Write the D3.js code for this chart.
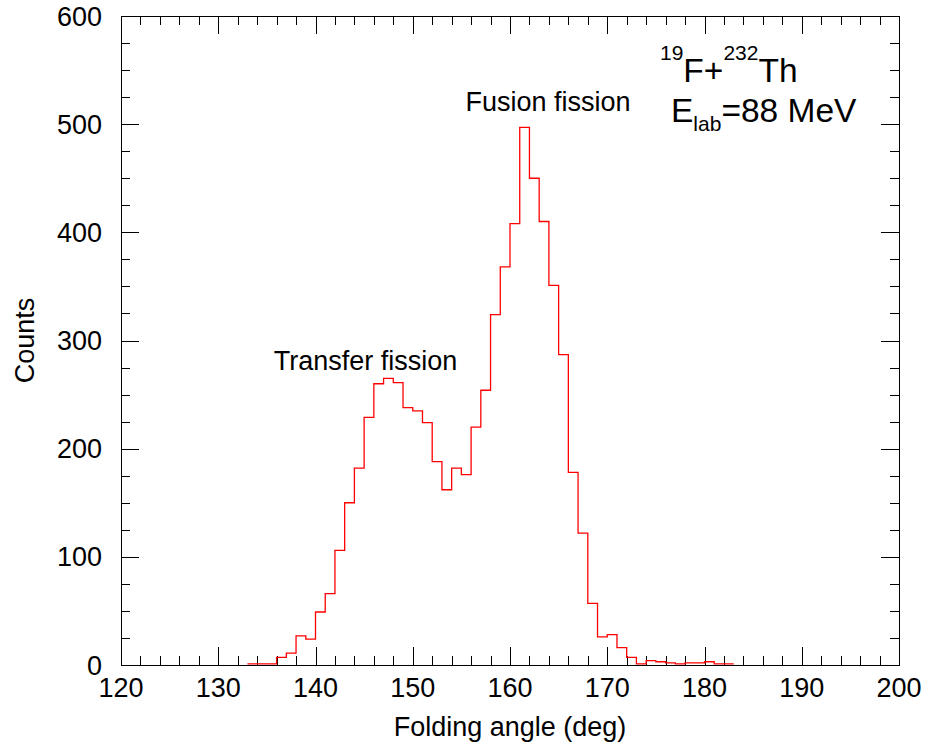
<!DOCTYPE html>
<html>
<head>
<meta charset="utf-8">
<script src="https://cdn.jsdelivr.net/npm/d3@7"></script>
<style>
    body { margin: 0; background: #ffffff; }
    svg { display: block; font-family: "Liberation Sans", Arial, sans-serif; }
</style>
</head>
<body>
<div id="chart"></div>
<script>
// Histogram bins, 1 degree wide, left edges
var bin_start = [133, 134, 135, 136, 137, 138, 139, 140, 141, 142,
    143, 144, 145, 146, 147, 148, 149, 150, 151, 152,
    153, 154, 155, 156, 157, 158, 159, 160, 161, 162,
    163, 164, 165, 166, 167, 168, 169, 170, 171, 172,
    173, 174, 175, 176, 177, 178, 179, 180, 181, 182];
var counts = [1, 1, 1, 7, 11, 27, 24, 49, 66, 106,
    150, 182, 229, 260, 265, 261, 238, 235, 224, 188,
    162, 182, 176, 220, 254, 324, 368, 408, 497, 450,
    410, 351, 287, 178, 122, 57, 26, 28, 16, 7,
    1, 4, 3, 2, 1, 2, 2, 3, 1, 1];
var bin_width = 1;

var x_ticks = [120, 130, 140, 150, 160, 170, 180, 190, 200];
var y_ticks = [0, 100, 200, 300, 400, 500, 600];

var width = 927,
    height = 745,
    margin = {top: 16, right: 28, bottom: 80, left: 121};

var svg = d3.select('#chart').append('svg')
    .attr('width', width)
    .attr('height', height);

var x = d3.scaleLinear().domain([120, 200]).range([margin.left, width - margin.right]);
var y = d3.scaleLinear().domain([0, 600]).range([height - margin.bottom, margin.top]);

var x0 = x.range()[0], x1 = x.range()[1],
    y0 = y.range()[0], y1 = y.range()[1];

// Ticks point inward on all four sides
var major = 18, minor = 9;

function tickLine(x_a, y_a, x_b, y_b) {
    svg.append('line')
        .attr('x1', x_a).attr('y1', y_a)
        .attr('x2', x_b).attr('y2', y_b)
        .attr('stroke', '#000000')
        .attr('stroke-width', 1)
        .attr('shape-rendering', 'crispEdges');
}

d3.range(120, 201, 2).forEach(function(v) {
    var len = v % 10 === 0 ? major : minor,
        px = Math.round(x(v)) + 0.5;
    tickLine(px, y0, px, y0 - len);
    tickLine(px, y1, px, y1 + len);
});

d3.range(0, 601, 25).forEach(function(v) {
    var len = v % 100 === 0 ? major : minor,
        py = Math.round(y(v)) + 0.5;
    tickLine(x0, py, x0 + len, py);
    tickLine(x1, py, x1 - len, py);
});

// Frame
svg.append('rect')
    .attr('x', Math.round(x0) + 0.5).attr('y', Math.round(y1) + 0.5)
    .attr('width', Math.round(x1 - x0)).attr('height', Math.round(y0 - y1))
    .attr('fill', 'none')
    .attr('stroke', '#000000')
    .attr('stroke-width', 1)
    .attr('shape-rendering', 'crispEdges');

// Tick labels
svg.selectAll('.xlabel').data(x_ticks).enter().append('text')
    .attr('class', 'xlabel')
    .attr('x', function(d) { return x(d); })
    .attr('y', y0 + 32)
    .attr('text-anchor', 'middle')
    .style('font-size', '27px')
    .text(function(d) { return d; });

svg.selectAll('.ylabel').data(y_ticks).enter().append('text')
    .attr('class', 'ylabel')
    .attr('x', x0 - 19)
    .attr('y', function(d) { return y(d) + 9.5; })
    .attr('text-anchor', 'end')
    .style('font-size', '27px')
    .text(function(d) { return d; });

// Axis titles
svg.append('text')
    .attr('x', (x0 + x1) / 2)
    .attr('y', 736)
    .attr('text-anchor', 'middle')
    .style('font-size', '27px')
    .text('Folding angle (deg)');

svg.append('text')
    .attr('transform', 'translate(34,' + ((y0 + y1) / 2) + ') rotate(-90)')
    .attr('text-anchor', 'middle')
    .style('font-size', '27px')
    .text('Counts');

// Histogram as a step line
var points = bin_start.map(function(b, i) { return [b, counts[i]]; });
points.push([bin_start[bin_start.length - 1] + bin_width, counts[counts.length - 1]]);

var step = d3.line()
    .x(function(d) { return x(d[0]); })
    .y(function(d) { return y(d[1]); })
    .curve(d3.curveStepAfter);

svg.append('path')
    .datum(points)
    .attr('d', step)
    .attr('fill', 'none')
    .attr('stroke', '#ff0000')
    .attr('stroke-width', 1.3);

// Peak annotations
svg.append('text')
    .attr('x', 365.5).attr('y', 370)
    .attr('text-anchor', 'middle')
    .style('font-size', '27px')
    .text('Transfer fission');

svg.append('text')
    .attr('x', 548).attr('y', 111)
    .attr('text-anchor', 'middle')
    .style('font-size', '27px')
    .text('Fusion fission');

// Reaction label
var reaction = svg.append('text')
    .attr('x', 660).attr('y', 82)
    .style('font-size', '33.5px');
reaction.append('tspan').attr('dy', -22).style('font-size', '21px').text('19');
reaction.append('tspan').attr('dy', 22).text('F+');
reaction.append('tspan').attr('dy', -22).style('font-size', '21px').text('232');
reaction.append('tspan').attr('dy', 22).text('Th');

var energy = svg.append('text')
    .attr('x', 671).attr('y', 122)
    .style('font-size', '33.5px');
energy.append('tspan').text('E');
energy.append('tspan').attr('dy', 9).style('font-size', '21px').text('lab');
energy.append('tspan').attr('dy', -9).text('=88 MeV');
</script>
</body>
</html>
